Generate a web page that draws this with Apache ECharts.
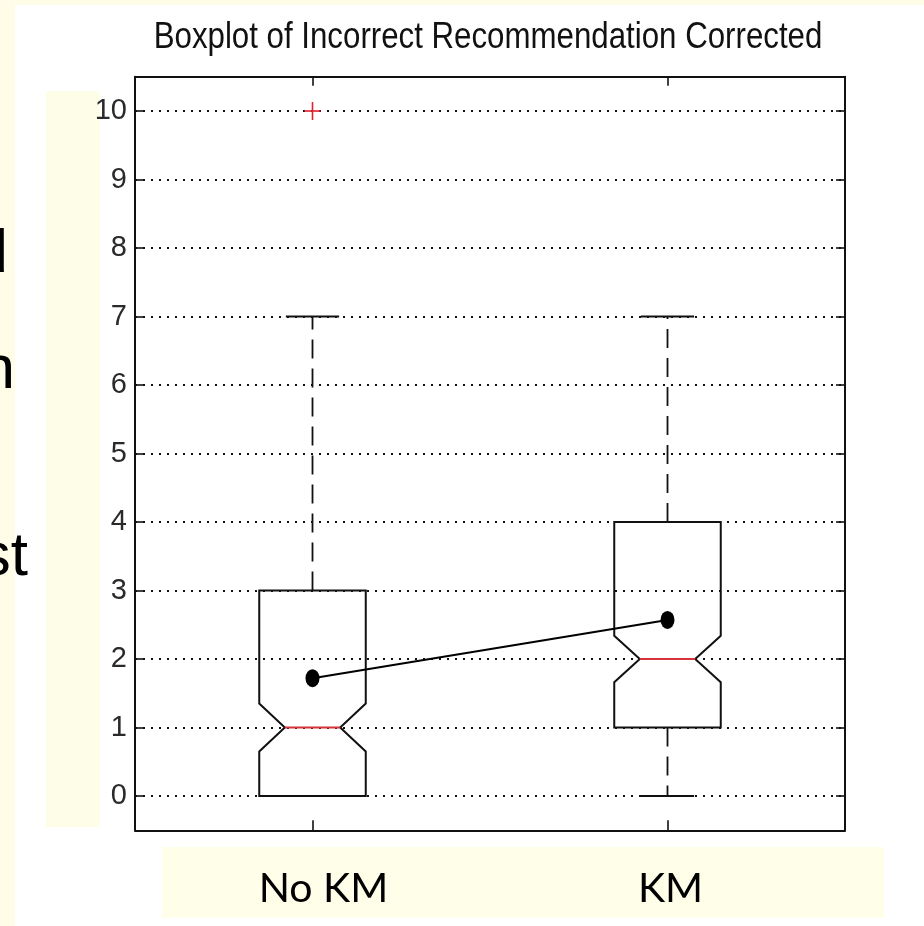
<!DOCTYPE html>
<html>
<head>
<meta charset="utf-8">
<title>Boxplot of Incorrect Recommendation Corrected</title>
<script src="https://cdn.jsdelivr.net/npm/echarts@6/dist/echarts.min.js"></script>
<style>
  html, body { margin: 0; padding: 0; background: #fffde8; }
  #chart { width: 924px; height: 926px; }
</style>
</head>
<body>
<div id="chart"></div>
<script>
// Groups and box statistics
const categories = ['No KM', 'KM'];
const q1 = [0, 1];
const medians = [1, 2];
const q3 = [3, 4];
const notchLow = [0.65, 1.66];
const notchHigh = [1.35, 2.34];
const whiskerLow = [0, 0];
const whiskerHigh = [7, 7];
const means = [1.72, 2.57];

// Outliers: group index and value
const outlierGroup = [0];
const outlierValue = [10];

// Y tick range
const yTickMin = 0;
const yTickMax = 10;
const yTickStep = 1;

const chartTitle = 'Boxplot of Incorrect Recommendation Corrected';

const boxData = categories.map((c, i) => [i, q1[i], medians[i], q3[i], notchLow[i], notchHigh[i], whiskerLow[i], whiskerHigh[i]]);
const outlierData = outlierGroup.map((g, i) => [g, outlierValue[i]]);
const meanData = categories.map((c, i) => [c, means[i]]);

const INK = '#111';
const MEDIAN = '#d8323c';

function renderBox(params, api) {
  const idx = api.value(0);
  const lo = api.value(1), med = api.value(2), hi = api.value(3);
  const nLo = api.value(4), nHi = api.value(5);
  const wLo = api.value(6), wHi = api.value(7);
  const band = api.size([1, 0])[0];
  const halfW = band * 0.15;
  const notchHalf = halfW * 0.52;
  const capHalf = halfW * 0.5;
  const cx = api.coord([idx, med])[0];
  const y = v => api.coord([idx, v])[1];

  const children = [];
  const pts = [
    [cx - halfW, y(lo)], [cx - halfW, y(nLo)], [cx - notchHalf, y(med)],
    [cx - halfW, y(nHi)], [cx - halfW, y(hi)], [cx + halfW, y(hi)],
    [cx + halfW, y(nHi)], [cx + notchHalf, y(med)], [cx + halfW, y(nLo)],
    [cx + halfW, y(lo)]
  ];
  children.push({
    type: 'polygon',
    shape: { points: pts },
    style: { fill: null, stroke: INK, lineWidth: 2 }
  });
  children.push({
    type: 'line',
    shape: { x1: cx - notchHalf, y1: y(med), x2: cx + notchHalf, y2: y(med) },
    style: { stroke: MEDIAN, lineWidth: 2 }
  });
  if (wHi > hi) {
    children.push({
      type: 'line',
      shape: { x1: cx, y1: y(hi), x2: cx, y2: y(wHi) },
      style: { stroke: INK, lineWidth: 1.8, lineDash: [19, 10] }
    });
    children.push({
      type: 'line',
      shape: { x1: cx - capHalf, y1: y(wHi), x2: cx + capHalf, y2: y(wHi) },
      style: { stroke: INK, lineWidth: 2 }
    });
  }
  if (wLo < lo) {
    children.push({
      type: 'line',
      shape: { x1: cx, y1: y(lo), x2: cx, y2: y(wLo) },
      style: { stroke: INK, lineWidth: 1.8, lineDash: [19, 10] }
    });
    children.push({
      type: 'line',
      shape: { x1: cx - capHalf, y1: y(wLo), x2: cx + capHalf, y2: y(wLo) },
      style: { stroke: INK, lineWidth: 2 }
    });
  }
  return { type: 'group', children: children };
}

function renderOutlier(params, api) {
  const p = api.coord([api.value(0), api.value(1)]);
  const s = 8;
  return {
    type: 'group',
    children: [
      { type: 'line', shape: { x1: p[0] - s, y1: p[1], x2: p[0] + s, y2: p[1] }, style: { stroke: '#e0202c', lineWidth: 1.6 } },
      { type: 'line', shape: { x1: p[0], y1: p[1] - s - 1, x2: p[0], y2: p[1] + s + 1 }, style: { stroke: '#e0202c', lineWidth: 1.6 } }
    ]
  };
}

const chart = echarts.init(document.getElementById('chart'), null, { renderer: 'canvas' });

// Outer frame grid (-0.5 .. 10.5) and inner tick grid (0 .. 10) share the same scale
const unit = 68.5;
const innerTop = 111;
const frameTop = innerTop - unit * 0.5;

const tickFont = { fontFamily: '"Liberation Sans", Arial, sans-serif', fontSize: 29, color: '#2a2a2a' };
const slideFont = '62px "Liberation Sans", Arial, sans-serif';

const option = {
  backgroundColor: '#fffde8',
  animation: false,
  graphic: [
    { type: 'rect', z: -10, shape: { x: 15, y: 5, width: 909, height: 921 }, style: { fill: '#ffffff' } },
    { type: 'rect', z: -9, shape: { x: 46, y: 91, width: 54, height: 736 }, style: { fill: '#fdfde8' } },
    { type: 'rect', z: -9, shape: { x: 162, y: 847, width: 722, height: 71 }, style: { fill: '#fffee8' } },
    {
      type: 'text', z: 10, x: 488, y: 20, scaleX: 0.868, originX: 0, originY: 0,
      style: { text: chartTitle, textAlign: 'center', textVerticalAlign: 'top', font: '36px "Liberation Sans", Arial, sans-serif', fill: '#111' }
    },
    { type: 'text', z: 10, style: { text: 'd', x: 8, y: 224, textAlign: 'right', textVerticalAlign: 'top', font: slideFont, fill: '#000' } },
    { type: 'text', z: 10, style: { text: 'n', x: 15, y: 340, textAlign: 'right', textVerticalAlign: 'top', font: slideFont, fill: '#000' } },
    { type: 'text', z: 10, style: { text: 'st', x: 28, y: 527, textAlign: 'right', textVerticalAlign: 'top', font: slideFont, fill: '#000' } }
  ],
  grid: [
    { left: 135, top: frameTop, width: 710, height: unit * 11 },
    { left: 135, top: innerTop, width: 710, height: unit * 10 }
  ],
  xAxis: [
    {
      type: 'category', gridIndex: 0, position: 'bottom', data: categories,
      axisLine: { onZero: false, lineStyle: { color: INK, width: 2 } },
      axisTick: { show: true, inside: true, alignWithLabel: true, interval: 0, length: 10, lineStyle: { color: INK, width: 1.6 } },
      axisLabel: {
        margin: 38,
        fontFamily: 'Lato', fontSize: 41, color: '#000',
        formatter: v => v === 'No KM' ? '{a|' + v + '}' : '{b|' + v + '}',
        rich: {
          a: { fontFamily: 'Lato', fontSize: 41, color: '#000', padding: [0, 0, 0, 22] },
          b: { fontFamily: 'Lato', fontSize: 41, color: '#000', padding: [0, 0, 0, 6] }
        }
      },
      splitLine: { show: false }
    },
    {
      type: 'category', gridIndex: 0, position: 'top', data: categories,
      axisLine: { onZero: false, lineStyle: { color: INK, width: 2 } },
      axisTick: { show: true, inside: true, alignWithLabel: true, interval: 0, length: 9, lineStyle: { color: INK, width: 1.6 } },
      axisLabel: { show: false },
      splitLine: { show: false }
    },
    { type: 'category', gridIndex: 1, data: categories, show: false }
  ],
  yAxis: [
    {
      type: 'value', gridIndex: 0, position: 'left', min: -0.5, max: 10.5,
      axisLine: { show: true, onZero: false, lineStyle: { color: INK, width: 2 } },
      axisTick: { show: false }, axisLabel: { show: false }, splitLine: { show: false }
    },
    {
      type: 'value', gridIndex: 0, position: 'right', min: -0.5, max: 10.5,
      axisLine: { show: true, onZero: false, lineStyle: { color: INK, width: 2 } },
      axisTick: { show: false }, axisLabel: { show: false }, splitLine: { show: false }
    },
    {
      type: 'value', gridIndex: 1, position: 'left', min: yTickMin, max: yTickMax, interval: yTickStep,
      axisLine: { show: false },
      axisTick: { show: true, inside: true, length: 9, lineStyle: { color: INK, width: 1.6 } },
      axisLabel: Object.assign({ margin: 8 }, tickFont),
      splitLine: { show: true, lineStyle: { color: '#111', width: 2, type: [2, 6] } }
    },
    {
      type: 'value', gridIndex: 1, position: 'right', min: yTickMin, max: yTickMax, interval: yTickStep,
      axisLine: { show: false },
      axisTick: { show: true, inside: true, length: 9, lineStyle: { color: INK, width: 1.6 } },
      axisLabel: { show: false },
      splitLine: { show: false }
    }
  ],
  series: [
    {
      type: 'custom', name: 'box', xAxisIndex: 0, yAxisIndex: 0,
      renderItem: renderBox,
      encode: { x: 0, y: [1, 2, 3, 4, 5, 6, 7] },
      data: boxData, z: 3
    },
    {
      type: 'custom', name: 'outliers', xAxisIndex: 0, yAxisIndex: 0,
      renderItem: renderOutlier,
      encode: { x: 0, y: 1 },
      data: outlierData, z: 4
    },
    {
      type: 'line', name: 'mean', xAxisIndex: 0, yAxisIndex: 0,
      data: meanData,
      symbol: 'circle', symbolSize: [14, 18], showSymbol: true,
      itemStyle: { color: '#000' },
      lineStyle: { color: '#000', width: 2 },
      z: 5
    }
  ]
};

chart.setOption(option);
</script>
</body>
</html>
